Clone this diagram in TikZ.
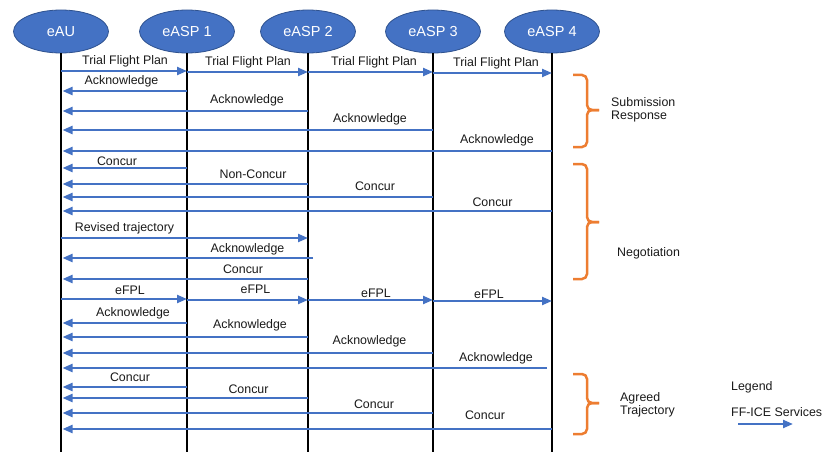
\documentclass[tikz,border=0pt]{standalone}
\usepackage{fontspec}
\setmainfont{Liberation Sans}
\usetikzlibrary{shapes.geometric,arrows.meta}
\definecolor{ablue}{HTML}{4472C4}
\definecolor{dblue}{HTML}{2F528F}
\definecolor{aorange}{HTML}{ED7D31}
\begin{document}
\begin{tikzpicture}[x=1pt,y=-1pt,
 actor/.style={ellipse, fill=ablue, draw=dblue, line width=0.8pt, minimum width=95pt, minimum height=43pt, inner sep=0pt, text=white, font=\fontsize{14.5}{16}\selectfont},
 life/.style={line width=2.8pt, black},
 msg/.style={line width=2.2pt, ablue, -{Triangle[length=10pt,width=8pt]}},
 lbl/.style={font=\fontsize{12.4}{14}\selectfont, text=black!90, inner sep=0pt},
 grp/.style={font=\fontsize{12.4}{13}\selectfont, text=black!90, inner sep=0pt, anchor=west, align=left},
 bracepath/.style={line width=2.5pt, aorange, rounded corners=5pt}]
\useasboundingbox (0,0) rectangle (822,452);
% actors
\node[actor] (au) at (61,31.5) {eAU};
\node[actor] (a1) at (187,31.5) {eASP 1};
\node[actor] (a2) at (308,31.5) {eASP 2};
\node[actor] (a3) at (433,31.5) {eASP 3};
\node[actor] (a4) at (552,31.5) {eASP 4};
% lifelines
\foreach \n in {au,a1,a2,a3,a4}{
  \coordinate (\n-end) at (\n.south |- 0,452);
  \draw[life] (\n.south) -- (\n-end);
}
% Trial flight plan
\draw[msg] (au|-0,71) -- (a1|-0,71);
\draw[msg] (a1|-0,72) -- (a2|-0,72);
\draw[msg] (a2|-0,72) -- (a3|-0,72);
\draw[msg] (a3|-0,73) -- (a4|-0,73);
\node[lbl] (t1) at (125,61) {Trial Flight Plan};
\node[lbl] (t2) at (248,62) {Trial Flight Plan};
\node[lbl] (t3) at (374,62) {Trial Flight Plan};
\node[lbl] (t4) at (496,63) {Trial Flight Plan};
% acknowledges 1
\draw[msg,shorten >=1.5pt] (a1|-0,91) -- (au|-0,91);
\draw[msg,shorten >=1.5pt] (a2|-0,111) -- (au|-0,111);
\draw[msg,shorten >=1.5pt] (a3|-0,130) -- (au|-0,130);
\draw[msg,shorten >=1.5pt] (a4|-0,151) -- (au|-0,151);
\node[lbl] (k1) at (121.5,81) {Acknowledge};
\node[lbl] (k2) at (247,100) {Acknowledge};
\node[lbl] (k3) at (370,119) {Acknowledge};
\node[lbl] (k4) at (497,140) {Acknowledge};
% concur round 1
\draw[msg,shorten >=1.5pt] (a1|-0,168) -- (au|-0,168);
\draw[msg,shorten >=1.5pt] (a2|-0,184) -- (au|-0,184);
\draw[msg,shorten >=1.5pt] (a3|-0,197) -- (au|-0,197);
\draw[msg,shorten >=1.5pt] (a4|-0,211) -- (au|-0,211);
\node[lbl] (c1) at (117,161.5) {Concur};
\node[lbl] (n2) at (253,174) {Non-Concur};
\node[lbl] (c3) at (375,186) {Concur};
\node[lbl] (c4) at (492.5,202) {Concur};
% revised
\draw[msg] (au|-0,238) -- (a2|-0,238);
\node[lbl] (rv) at (124.5,228) {Revised trajectory};
\coordinate (a2r) at ([xshift=5pt]a2.south |- 0,258);
\draw[msg,shorten >=1.5pt] (a2r) -- (au|-0,258);
\draw[msg,shorten >=1.5pt] (a2|-0,279) -- (au|-0,279);
\node[lbl] (rk) at (247.5,249) {Acknowledge};
\node[lbl] (rc) at (243,269) {Concur};
% eFPL
\draw[msg] (au|-0,299) -- (a1|-0,299);
\draw[msg] (a1|-0,300) -- (a2|-0,300);
\draw[msg] (a2|-0,300) -- (a3|-0,300);
\draw[msg] (a3|-0,301) -- (a4|-0,301);
\node[lbl] (e1) at (130,290) {eFPL};
\node[lbl] (e2) at (255.5,289) {eFPL};
\node[lbl] (e3) at (376,293) {eFPL};
\node[lbl] (e4) at (489,294) {eFPL};
% acknowledges 2
\coordinate (a4l) at ([xshift=-5pt]a4.south |- 0,368);
\draw[msg,shorten >=1.5pt] (a1|-0,323) -- (au|-0,323);
\draw[msg,shorten >=1.5pt] (a2|-0,337) -- (au|-0,337);
\draw[msg,shorten >=1.5pt] (a3|-0,353) -- (au|-0,353);
\draw[msg,shorten >=1.5pt] (a4l) -- (au|-0,368);
\node[lbl] (f1) at (133,313) {Acknowledge};
\node[lbl] (f2) at (250,325) {Acknowledge};
\node[lbl] (f3) at (369.5,341) {Acknowledge};
\node[lbl] (f4) at (496,358) {Acknowledge};
% concur round 2
\draw[msg,shorten >=1.5pt] (a1|-0,387) -- (au|-0,387);
\draw[msg,shorten >=1.5pt] (a2|-0,398) -- (au|-0,398);
\draw[msg,shorten >=1.5pt] (a3|-0,413) -- (au|-0,413);
\draw[msg,shorten >=1.5pt] (a4|-0,429) -- (au|-0,429);
\node[lbl] (g1) at (130,377) {Concur};
\node[lbl] (g2) at (248.5,389) {Concur};
\node[lbl] (g3) at (374,404) {Concur};
\node[lbl] (g4) at (485,415) {Concur};
% braces
\draw[bracepath] (573,75) -- (587,75) -- (587,110) -- (599,110);
\draw[bracepath] (573,147) -- (587,147) -- (587,110) -- (599,110);
\node[grp] (sr) at (611,109.5) {Submission\\Response};
\draw[bracepath] (573,164) -- (587,164) -- (587,222) -- (599,222);
\draw[bracepath] (573,279) -- (587,279) -- (587,222) -- (599,222);
\node[grp] (ng) at (617,253) {Negotiation};
\draw[bracepath] (573,374) -- (587,374) -- (587,403) -- (599,403);
\draw[bracepath] (573,434) -- (587,434) -- (587,403) -- (599,403);
\node[grp] (ag) at (620,404.5) {Agreed\\Trajectory};
% legend
\node[grp] (lg) at (731,387) {Legend};
\node[grp] (ls) at (731,412) {FF-ICE Services};
\coordinate (lgA) at (738,424);
\coordinate (lgB) at (793,424);
\draw[msg] (lgA) -- (lgB);
\end{tikzpicture}
\end{document}
